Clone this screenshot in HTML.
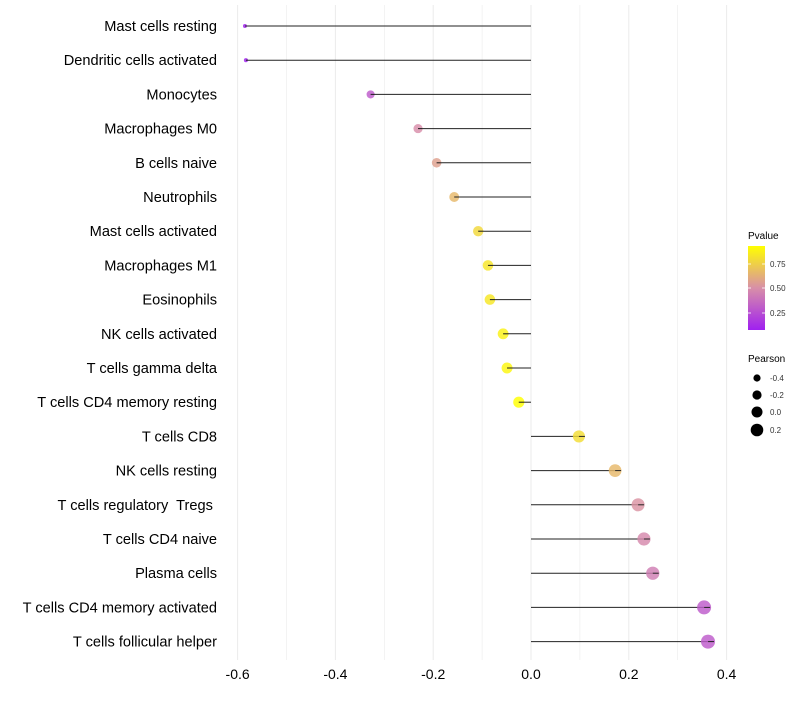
<!DOCTYPE html>
<html><head><meta charset="utf-8"><style>
body{margin:0;background:#fff;font-family:"Liberation Sans",sans-serif}
</style></head><body>
<svg id="chart" width="800" height="700" xmlns="http://www.w3.org/2000/svg" font-family="Liberation Sans, sans-serif">
<defs><linearGradient id="pg" x1="0" y1="1" x2="0" y2="0">
<stop offset="0" stop-color="#a020f0"/><stop offset="0.5" stop-color="#d88fa8"/><stop offset="1" stop-color="#ffff00"/></linearGradient></defs>
<g id="grid"></g>
<g id="marks"></g>
<g id="axes"></g>
<g>
<text x="748" y="239" font-size="10">Pvalue</text>
<rect x="748" y="246" width="17" height="84" fill="url(#pg)"/>
<g stroke="#fff" stroke-width="0.8"><line x1="748" x2="751" y1="264" y2="264"/><line x1="762" x2="765" y1="264" y2="264"/><line x1="748" x2="751" y1="288" y2="288"/><line x1="762" x2="765" y1="288" y2="288"/><line x1="748" x2="751" y1="313" y2="313"/><line x1="762" x2="765" y1="313" y2="313"/></g>
<g font-size="8" fill="#333"><text x="770" y="267">0.75</text><text x="770" y="291">0.50</text><text x="770" y="316">0.25</text></g>
</g>
<g>
<text x="748" y="362" font-size="10">Pearson</text>
<circle cx="757" cy="378" r="3.6"/><circle cx="757" cy="395" r="4.6"/><circle cx="757" cy="412" r="5.5"/><circle cx="757" cy="430" r="6.3"/>
<g font-size="8" fill="#333"><text x="770" y="381">-0.4</text><text x="770" y="398">-0.2</text><text x="770" y="415">0.0</text><text x="770" y="433">0.2</text></g>
</g>
</svg>
<script>
const categories=["Mast cells resting","Dendritic cells activated","Monocytes","Macrophages M0","B cells naive","Neutrophils","Mast cells activated","Macrophages M1","Eosinophils","NK cells activated","T cells gamma delta","T cells CD4 memory resting","T cells CD8","NK cells resting","T cells regulatory  Tregs ","T cells CD4 naive","Plasma cells","T cells CD4 memory activated","T cells follicular helper"];
const pearson=[-0.585,-0.583,-0.328,-0.231,-0.193,-0.157,-0.108,-0.088,-0.084,-0.057,-0.049,-0.025,0.098,0.172,0.219,0.231,0.249,0.354,0.362];
const pvalue=[0.08,0.08,0.3,0.5,0.57,0.66,0.78,0.83,0.84,0.88,0.9,0.93,0.8,0.66,0.52,0.48,0.44,0.3,0.3];
const xTicks=[-0.6,-0.4,-0.2,0.0,0.2,0.4];
const xTickLabels=["-0.6","-0.4","-0.2","0.0","0.2","0.4"];
const NS="http://www.w3.org/2000/svg";
const x=v=>531+v*489;
const y=i=>26+i*34.2;
function mk(t,a,p){const e=document.createElementNS(NS,t);for(const k in a)e.setAttribute(k,a[k]);p.appendChild(e);return e;}
function lerp(a,b,t){return a.map((v,i)=>Math.round(v+(b[i]-v)*t));}
function col(p){const t=Math.max(0,Math.min(1,(p-0.077)/(0.93-0.077)));
 const c0=[160,32,240],c1=[216,143,168],c2=[255,255,0];
 const c=t<0.5?lerp(c0,c1,t/0.5):lerp(c1,c2,(t-0.5)/0.5);return `rgb(${c})`;}
const rad=v=>Math.sqrt(4+48*(v+0.585));
const grid=document.getElementById('grid'),marks=document.getElementById('marks'),axes=document.getElementById('axes');
for(let v=-0.6;v<=0.41;v+=0.1){const l=mk('line',{x1:x(v),x2:x(v),y1:5,y2:660,stroke:'#ebebeb','stroke-width':Math.abs(Math.round(v*10))%2==0?1:0.6},grid);

}
xTicks.forEach((v,i)=>{const t=mk('text',{x:x(v),y:679,'font-size':14,'text-anchor':'middle',fill:'#000'},axes);t.textContent=xTickLabels[i];

});
categories.forEach((c,i)=>{
 const t=mk('text',{x:217,y:y(i)+5,'font-size':14.6,'text-anchor':'end',fill:'#000','xml:space':'preserve',style:'white-space:pre'},axes);t.textContent=c;
 
 
 const l=mk('line',{x1:x(0),x2:x(pearson[i]),y1:y(i),y2:y(i),stroke:'#222','stroke-width':1},marks);
 
 
 const p=mk('circle',{cx:x(pearson[i]),cy:y(i),r:rad(pearson[i]),fill:col(pvalue[i]),'fill-opacity':0.82},marks);
 
 
 const s=mk('line',{x1:x(pearson[i]),x2:x(pearson[i])+Math.min(6,rad(pearson[i])),y1:y(i),y2:y(i),stroke:'#222','stroke-width':1},marks);
 
 
});
</script>
</body></html>
